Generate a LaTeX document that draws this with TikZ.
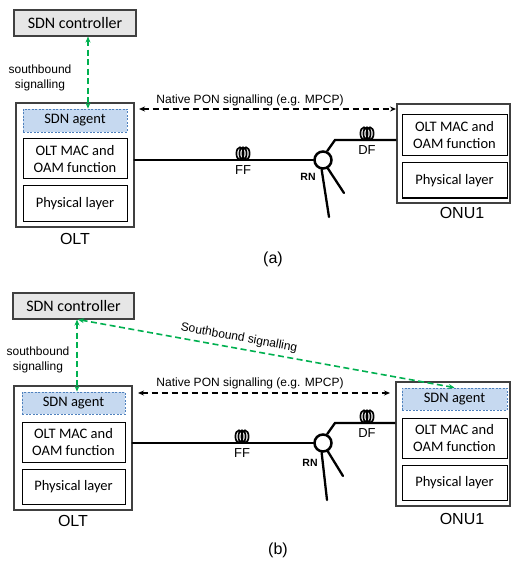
\documentclass[tikz,border=0pt]{standalone}
\usepackage{fontspec}
\setmainfont{Liberation Sans}
\newfontfamily\boxfont{Carlito}
\usetikzlibrary{arrows.meta}
\definecolor{sbgreen}{HTML}{00B050}
\definecolor{agentfill}{HTML}{C6D9F0}
\definecolor{agentline}{HTML}{4F81BD}
\definecolor{ctrlfill}{HTML}{E6E6E6}
\definecolor{outerline}{HTML}{404040}
\tikzset{
  ctrlbox/.style={draw=outerline, fill=ctrlfill, line width=1.1pt, inner sep=0pt, font=\boxfont\fontsize{16}{18}\selectfont},
  outerbox/.style={draw=outerline, line width=1.1pt, inner sep=0pt},
  innerbox/.style={draw=black, line width=1pt, inner sep=0pt, align=center, font=\boxfont\fontsize{14.5}{17}\selectfont},
  agentbox/.style={draw=agentline, fill=agentfill, dashed, dash pattern=on 2pt off 1.5pt, line width=0.8pt, inner sep=0pt, font=\boxfont\fontsize{14.5}{17}\selectfont},
  greenarrow/.style={draw=sbgreen, line width=1.6pt, dash pattern=on 6pt off 3.5pt, {Stealth[length=6pt,width=5pt]}-{Stealth[length=6pt,width=5pt]}},
  ponarrow/.style={draw=black, line width=1.3pt, dash pattern=on 6pt off 4pt, {Stealth[length=6pt,width=5pt]}-{Stealth[length=6pt,width=5pt]}},
  fiber/.style={line width=2.3pt, line cap=round},
  rnnode/.style={circle, draw=black, line width=2.5pt, minimum size=17pt, inner sep=0pt},
  coilline/.style={line width=1.7pt},
  smalllabel/.style={font=\fontsize{12}{14.5}\selectfont, align=center},
  fiberlabel/.style={font=\fontsize{13}{15}\selectfont},
  rnlabel/.style={font=\bfseries\fontsize{10.5}{12}\selectfont},
  biglabel/.style={font=\fontsize{16}{18}\selectfont},
}
\begin{document}
\begin{tikzpicture}[x=1pt,y=-1pt]
\useasboundingbox (0,0) rectangle (512,561);

% ================= (a) =================
\node[ctrlbox, minimum width=122pt, minimum height=26pt] (ctrlA) at (75,23) {SDN controller};
\node[outerbox, minimum width=118pt, minimum height=124pt] (oltA) at (75,165) {};
\node[agentbox, minimum width=104pt, minimum height=23pt] (agentA) at (75,120.5) {SDN agent};
\node[innerbox, minimum width=104pt, minimum height=40pt] (macA) at (75,159) {OLT MAC and\\OAM function};
\node[innerbox, minimum width=104pt, minimum height=35pt] (phyA) at (75,203.5) {Physical layer};
\node[biglabel] (oltlabA) at (75,239) {OLT};

\node[outerbox, minimum width=113pt, minimum height=99pt] (onuA) at (453.5,153.5) {};
\node[innerbox, minimum width=105pt, minimum height=41pt] (onumacA) at (454.5,135.5) {OLT MAC and\\OAM function};
\node[innerbox, minimum width=105pt, minimum height=35pt] (onuphyA) at (454.5,180.5) {Physical layer};
\node[biglabel] (onulabA) at (462,213) {ONU1};

\draw[greenarrow] ([xshift=13pt]ctrlA.south) -- ([xshift=13pt]agentA.north);
\node[smalllabel] (sbA) at (40,78) {southbound\\signalling};

\coordinate (ponA1) at (139,109);
\coordinate (ponA2) at (396,109);
\draw[ponarrow] (ponA1) -- (ponA2);
\node[smalllabel] (ponlabA) at (250,100.5) {Native PON signalling (e.g. MPCP)};

\node[rnnode] (rnA) at (323,160) {};
\coordinate (bendA) at (335,140);
\coordinate (legA1) at (329,217);
\coordinate (legA2) at (344,193);
\draw[fiber] ([yshift=5pt]oltA.east) -- (rnA.west);
\draw[fiber, line cap=butt] (rnA.65) -- (bendA) -- (onuA.west |- bendA);
\draw[fiber] (rnA.262) -- (legA1);
\draw[fiber] (rnA.300) -- (legA2);
\foreach \dx in {-3,0,3} {
  \draw[coilline] (243+\dx,153.5) ellipse [x radius=3.6, y radius=6.2];
  \draw[coilline] (367+\dx,133.5) ellipse [x radius=3.6, y radius=6.2];
}
\node[fiberlabel] (ffA) at (243,170) {FF};
\node[fiberlabel] (dfA) at (367,150) {DF};
\node[rnlabel] (rnlabA) at (308,177) {RN};
\node[biglabel] (capA) at (273,259) {(a)};

% ================= (b) =================
\node[ctrlbox, minimum width=121pt, minimum height=26pt] (ctrlB) at (73.5,306) {SDN controller};
\node[outerbox, minimum width=118pt, minimum height=124pt] (oltB) at (73,448) {};
\node[agentbox, minimum width=103pt, minimum height=22pt] (agentB) at (73.5,403) {SDN agent};
\node[innerbox, minimum width=103pt, minimum height=40pt] (macB) at (73.5,442) {OLT MAC and\\OAM function};
\node[innerbox, minimum width=103pt, minimum height=35pt] (phyB) at (73.5,486.5) {Physical layer};
\node[biglabel] (oltlabB) at (73,521) {OLT};

\node[outerbox, minimum width=114pt, minimum height=124pt] (onuB) at (453,444) {};
\node[agentbox, minimum width=105pt, minimum height=22pt] (onuagentB) at (454.5,399) {SDN agent};
\node[innerbox, minimum width=105pt, minimum height=40pt] (onumacB) at (454.5,438) {OLT MAC and\\OAM function};
\node[innerbox, minimum width=105pt, minimum height=35pt] (onuphyB) at (454.5,482.5) {Physical layer};
\node[biglabel] (onulabB) at (462,519) {ONU1};

\draw[greenarrow] ([xshift=3.5pt]ctrlB.south) -- ([xshift=3.5pt]agentB.north);
\node[smalllabel] (sbB) at (38,360) {southbound\\signalling};
\draw[greenarrow] ([xshift=4.5pt]ctrlB.south) -- (onuagentB.north);
\node[smalllabel, rotate=-10.4] (sbdiag) at (239,338) {Southbound signalling};

\coordinate (ponB1) at (138,393);
\coordinate (ponB2) at (390,393);
\draw[ponarrow] (ponB1) -- (ponB2);
\node[smalllabel] (ponlabB) at (250,383.5) {Native PON signalling (e.g. MPCP)};

\node[rnnode] (rnB) at (323,443) {};
\coordinate (bendB) at (335,423);
\coordinate (legB1) at (327,500);
\coordinate (legB2) at (343,476);
\draw[fiber] ([yshift=5pt]oltB.east) -- (rnB.west);
\draw[fiber, line cap=butt] (rnB.65) -- (bendB) -- (onuB.west |- bendB);
\draw[fiber] (rnB.262) -- (legB1);
\draw[fiber] (rnB.300) -- (legB2);
\foreach \dx in {-3,0,3} {
  \draw[coilline] (242+\dx,436.5) ellipse [x radius=3.6, y radius=6.2];
  \draw[coilline] (367+\dx,416.5) ellipse [x radius=3.6, y radius=6.2];
}
\node[fiberlabel] (ffB) at (242,453) {FF};
\node[fiberlabel] (dfB) at (367,433) {DF};
\node[rnlabel] (rnlabB) at (310,463) {RN};
\node[biglabel] (capB) at (278,550) {(b)};
\end{tikzpicture}
\end{document}
